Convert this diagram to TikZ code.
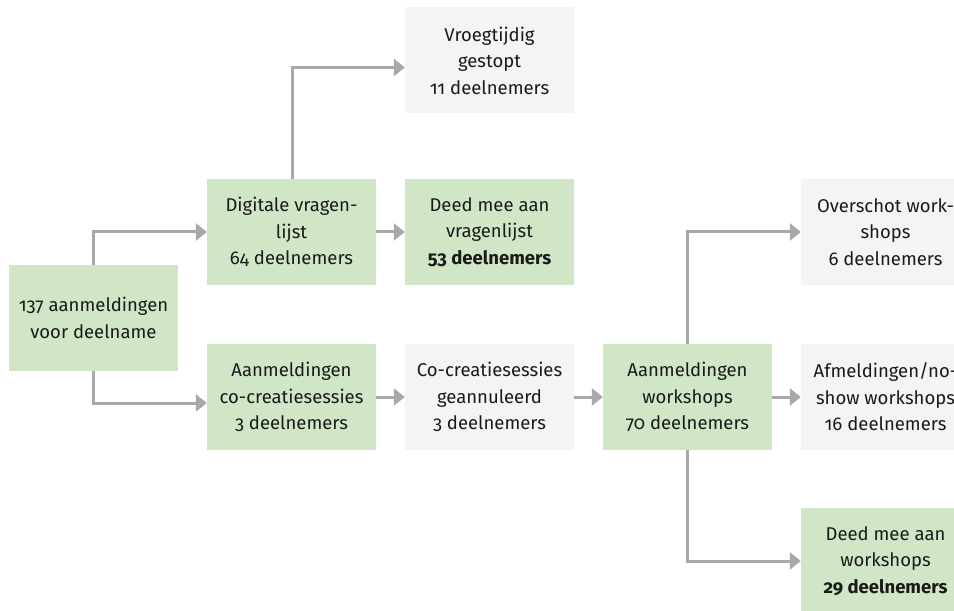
\documentclass[tikz,border=0pt]{standalone}
\usepackage{fontspec}
\setmainfont{Fira Sans}[Numbers=OldStyle]
\usetikzlibrary{arrows.meta}
\definecolor{boxgreen}{RGB}{208,230,198}
\definecolor{boxgray}{RGB}{244,244,244}
\definecolor{arrgray}{RGB}{168,168,168}
\definecolor{txt}{RGB}{26,26,26}
\tikzset{
  base/.style={minimum width=169bp, minimum height=106bp, inner sep=0pt, align=center,
    text=txt, font=\fontsize{18.5bp}{26.5bp}\selectfont},
  gbox/.style={base, fill=boxgreen},
  ybox/.style={base, fill=boxgray},
  arr/.style={draw=arrgray, line width=3bp, -{Triangle[length=11bp,width=17bp]}},
}
\begin{document}
\begin{tikzpicture}[x=1bp,y=-1bp]
\useasboundingbox (0,0) rectangle (954,611);
\clip (0,0) rectangle (954,611);
\node[gbox] (A) at (93.5,318) {137 aanmeldingen\\voor deelname};
\node[gbox] (dig) at (291.5,232) {Digitale vragen-\\lijst\\64 deelnemers};
\node[gbox] (cc) at (291.5,397) {Aanmeldingen\\co-creatiesessies\\3 deelnemers};
\node[ybox] (vro) at (489.5,60.5) {Vroegtijdig\\gestopt\\11 deelnemers};
\node[gbox] (dvl) at (489.5,232) {Deed mee aan\\vragenlijst\\\textbf{53 deelnemers}};
\node[ybox] (gan) at (489.5,397) {Co-creatiesessies\\geannuleerd\\3 deelnemers};
\node[gbox] (ws) at (687.5,397) {Aanmeldingen\\workshops\\70 deelnemers};
\node[ybox] (ovs) at (885.5,232) {Overschot work-\\shops\\6 deelnemers};
\node[ybox] (afm) at (885.5,397) {Afmeldingen/no-\\show workshops\\16 deelnemers};
\node[gbox] (dws) at (885.5,561) {Deed mee aan\\workshops\\\textbf{29 deelnemers}};
\draw[arr] (A.north) |- (dig.west);
\draw[arr] (A.south) |- ([yshift=-6bp]cc.west);
\draw[arr] ([xshift=1bp]dig.north) |- ([yshift=-7bp]vro.west);
\draw[arr] (dig.east) -- (dvl.west);
\draw[arr] (cc.east) -- (gan.west);
\draw[arr] (gan.east) -- (ws.west);
\draw[arr] (ws.east) -- (afm.west);
\draw[arr] (ws.north) |- (ovs.west);
\draw[arr] (ws.south) |- (dws.west);
\end{tikzpicture}
\end{document}
